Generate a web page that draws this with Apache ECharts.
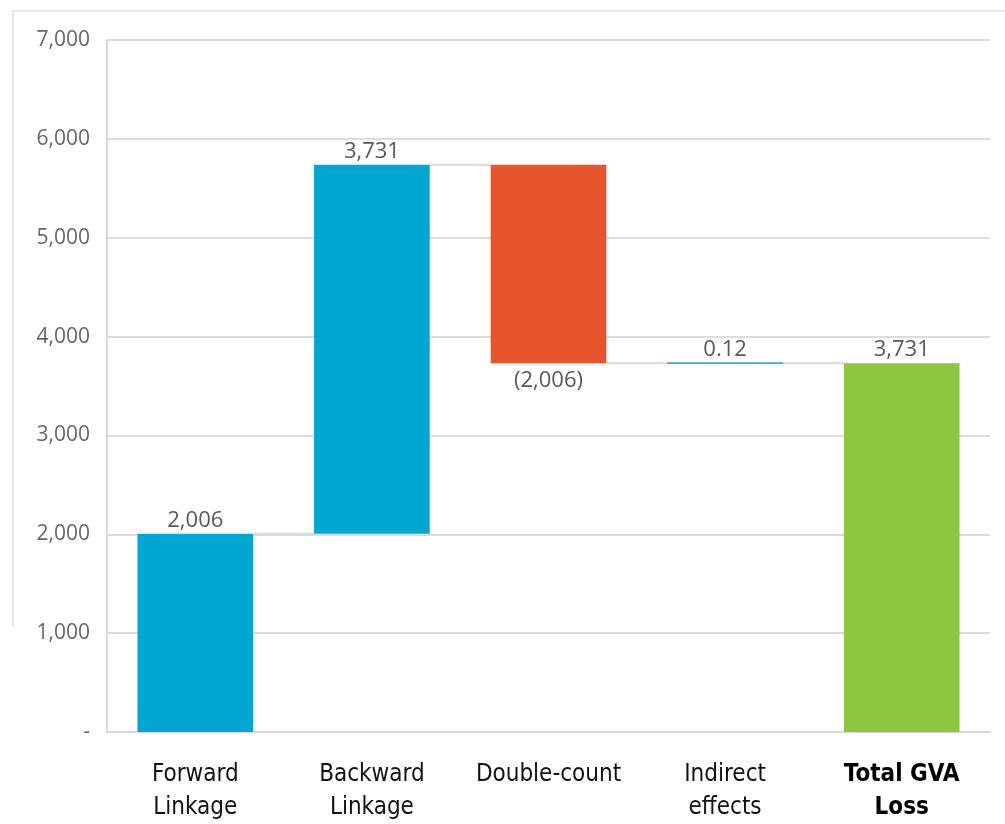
<!DOCTYPE html>
<html>
<head>
<meta charset="utf-8">
<style>
  html, body { margin: 0; padding: 0; background: #ffffff; }
  #chart { width: 1005px; height: 824px; }
</style>
<script src="https://cdn.jsdelivr.net/npm/echarts@6/dist/echarts.min.js"></script>
</head>
<body>
<div id="chart"></div>
<script>
// Waterfall steps of the GVA loss build-up
const categories = ['Forward\nLinkage', 'Backward\nLinkage', 'Double-count', 'Indirect\neffects', 'Total GVA\nLoss'];
const changes = [2006, 3731, -2006, 0.12, 3731];
const isTotal = [false, false, false, false, true];
const barColors = ['#02A6D3', '#02A6D3', '#E8552C', '#2AAEDC', '#8DC63F'];
const yTicks = [0, 1000, 2000, 3000, 4000, 5000, 6000, 7000];

// Build floating bar bases, heights and connector levels from the steps
const bases = [];
const heights = [];
const levels = [];
let running = 0;
changes.forEach(function (v, i) {
  if (isTotal[i]) {
    bases.push(0);
    heights.push(v);
    running = v;
  } else if (v >= 0) {
    bases.push(running);
    heights.push(v);
    running += v;
  } else {
    bases.push(running + v);
    heights.push(-v);
    running += v;
  }
  levels.push(running);
});

function fmtValue(v) {
  const a = Math.abs(v);
  const s = a < 1 ? a.toFixed(2) : Math.round(a).toLocaleString('en-US');
  return v < 0 ? '(' + s + ')' : s;
}

const BAR_RATIO = 0.655;
const CAT_FONT = '"DejaVu Sans Condensed", "DejaVu Sans", sans-serif';
const chart = echarts.init(document.getElementById('chart'), null, { renderer: 'canvas' });

const connectorData = [];
for (let i = 0; i < categories.length - 1; i++) connectorData.push([i, levels[i]]);

chart.setOption({
  animation: false,
  backgroundColor: '#ffffff',
  grid: { left: 107, right: 15, top: 40, bottom: 91, containLabel: false },
  graphic: [
    { type: 'polyline', shape: { points: [[13, 626], [13, 11], [1005, 11]] },
      style: { stroke: '#d3d3d3', lineWidth: 1.2, fill: null } }
  ],
  xAxis: {
    type: 'category',
    data: categories,
    axisLine: { show: true, lineStyle: { color: '#d9d9d9', width: 2 } },
    axisTick: { show: false },
    axisLabel: {
      interval: 0,
      margin: 26,
      fontFamily: CAT_FONT,
      fontSize: 24,
      lineHeight: 33,
      color: '#111111',
      formatter: function (val, idx) {
        return isTotal[idx] ? '{b|' + val.split('\n').join('}\n{b|') + '}' : val;
      },
      rich: {
        b: { fontWeight: 'bold', fontSize: 24, lineHeight: 33, color: '#000000', fontFamily: CAT_FONT }
      }
    }
  },
  yAxis: {
    type: 'value',
    min: yTicks[0],
    max: yTicks[yTicks.length - 1],
    interval: 1000,
    axisLine: { show: true, lineStyle: { color: '#d9d9d9', width: 2 } },
    axisTick: { show: false },
    splitLine: { lineStyle: { color: '#dcdcdc', width: 2 } },
    axisLabel: {
      margin: 17,
      fontFamily: '"Open Sans", sans-serif',
      fontSize: 21,
      color: '#666666',
      formatter: function (v) { return v === 0 ? '-' : v.toLocaleString('en-US'); }
    }
  },
  series: [
    {
      name: 'base',
      type: 'bar',
      stack: 'wf',
      barWidth: (BAR_RATIO * 100) + '%',
      itemStyle: { color: 'transparent' },
      emphasis: { disabled: true },
      data: bases
    },
    {
      name: 'step',
      type: 'bar',
      stack: 'wf',
      barWidth: (BAR_RATIO * 100) + '%',
      data: heights.map(function (h, i) {
        const item = {
          value: h,
          itemStyle: { color: barColors[i] },
          label: {
            show: true,
            position: changes[i] < 0 ? 'bottom' : 'top',
            distance: changes[i] < 0 ? 7 : 2,
            formatter: function () { return fmtValue(changes[i]); },
            fontFamily: '"Open Sans", sans-serif',
            fontSize: 22,
            color: '#595959'
          }
        };
        if (h < 1) {
          item.itemStyle.borderColor = barColors[i];
          item.itemStyle.borderWidth = 1.8;
        }
        return item;
      })
    },
    {
      name: 'connector',
      type: 'custom',
      silent: true,
      z: 1,
      renderItem: function (params, api) {
        const idx = api.value(0);
        const lvl = api.value(1);
        const band = api.size([1, 0])[0];
        const p0 = api.coord([idx, lvl]);
        const p1 = api.coord([idx + 1, lvl]);
        const half = band * BAR_RATIO / 2;
        return {
          type: 'line',
          shape: { x1: p0[0] + half, y1: p0[1], x2: p1[0] - half, y2: p1[1] },
          style: { stroke: '#d9d9d9', lineWidth: 2 }
        };
      },
      data: connectorData
    }
  ]
});
</script>
</body>
</html>
